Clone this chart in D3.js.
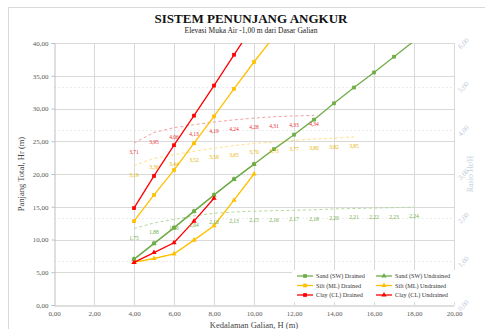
<!DOCTYPE html>
<html>
<head>
<meta charset="utf-8">
<script src="https://cdn.jsdelivr.net/npm/d3@7"></script>
<style>
  body { margin: 0; background: #fff; }
  text { font-family: "Liberation Serif", "DejaVu Serif", serif; }
</style>
</head>
<body>
<div class="chart"></div>
<script>
// depth H (m) for each series
const depthSandDrained = [4, 5, 6, 7, 8, 9, 10, 11, 12, 13, 14, 15, 16, 17, 18];
const sandDrained = [7.0, 9.4, 11.8, 14.3, 16.8, 19.2, 21.5, 23.8, 26.0, 28.3, 30.8, 33.2, 35.5, 37.9, 40.3];
const depthSandUndrained = [4, 5, 6, 7, 8, 9, 10];
const sandUndrained = [7.0, 9.4, 11.8, 14.3, 16.8, 19.2, 21.5];
const depthSiltDrained = [4, 5, 6, 7, 8, 9, 10, 11, 12, 13, 14, 15];
const siltDrained = [12.8, 16.8, 20.6, 24.7, 28.8, 33.0, 37.1, 41.0, 45.2, 49.4, 53.5, 57.8];
const depthSiltUndrained = [4, 5, 6, 7, 8, 9, 10];
const siltUndrained = [6.5, 7.1, 7.8, 9.9, 12.1, 16.0, 20.0];
const depthClayDrained = [4, 5, 6, 7, 8, 9, 10, 11, 12, 13];
const clayDrained = [14.8, 19.7, 24.4, 28.9, 33.5, 38.2, 42.8, 47.4, 52.0, 56.4];
const depthClayUndrained = [4, 5, 6, 7, 8];
const clayUndrained = [6.5, 8.0, 9.5, 12.8, 16.3];

// ratio Hr/H (right axis)
const sandRatio = [1.75, 1.88, 1.96, 2.04, 2.10, 2.13, 2.15, 2.16, 2.17, 2.18, 2.20, 2.21, 2.22, 2.23, 2.24];
const siltRatio = [3.19, 3.36, 3.44, 3.52, 3.59, 3.65, 3.70, 3.73, 3.77, 3.80, 3.82, 3.85];
const clayRatio = [3.71, 3.95, 4.06, 4.13, 4.19, 4.24, 4.28, 4.31, 4.33, 4.34];

const xTicks = [0, 2, 4, 6, 8, 10, 12, 14, 16, 18, 20];
const yTicks = [0, 5, 10, 15, 20, 25, 30, 35, 40];
const y2Ticks = [0, 1, 2, 3, 4, 5, 6];

const width = 485, height = 329;
const plot = { left: 54, right: 454, top: 43, bottom: 305 };
const fmt = v => d3.format(".2f")(v).replace(".", ",");

const svg = d3.select('.chart').append('svg')
  .attr('width', width).attr('height', height);

// chart border
svg.append('rect')
  .attr('x', 8.5).attr('y', 7.5).attr('width', 490).attr('height', 340)
  .attr('fill', 'none').attr('stroke', '#d9d9d9');

const x = d3.scaleLinear().domain([0, 20]).range([plot.left, plot.right]);
const y = d3.scaleLinear().domain([0, 40]).range([plot.bottom, plot.top]);
const y2 = d3.scaleLinear().domain([0, 6]).range([plot.bottom, plot.top]);

svg.append('clipPath').attr('id', 'clip').append('rect')
  .attr('x', plot.left).attr('y', plot.top)
  .attr('width', plot.right - plot.left).attr('height', plot.bottom - plot.top);

// Gridlines
svg.append('g').selectAll('line').data(y2Ticks.slice(1, -1)).enter().append('line')
  .attr('x1', plot.left).attr('x2', plot.right)
  .attr('y1', d => Math.round(y2(d)) + 0.5).attr('y2', d => Math.round(y2(d)) + 0.5)
  .attr('stroke', '#ececec').attr('stroke-dasharray', '2,2');
svg.append('g').selectAll('line').data(yTicks.slice(1)).enter().append('line')
  .attr('x1', plot.left).attr('x2', plot.right)
  .attr('y1', d => Math.round(y(d)) + 0.5).attr('y2', d => Math.round(y(d)) + 0.5)
  .attr('stroke', '#d9d9d9');
svg.append('g').selectAll('line').data(xTicks.slice(1)).enter().append('line')
  .attr('y1', plot.top).attr('y2', plot.bottom)
  .attr('x1', d => Math.round(x(d)) + 0.5).attr('x2', d => Math.round(x(d)) + 0.5)
  .attr('stroke', '#d9d9d9');

// Axes
const xaxis = svg.append('g')
  .attr('transform', 'translate(0,' + (plot.bottom + 0.5) + ')')
  .call(d3.axisBottom(x).tickValues(xTicks).tickFormat(fmt).tickSize(0).tickPadding(6));
const yaxis = svg.append('g')
  .attr('transform', 'translate(' + (plot.left + 0.5) + ',0)')
  .call(d3.axisLeft(y).tickValues(yTicks).tickFormat(fmt).tickSize(3).tickPadding(3));
[xaxis, yaxis].forEach(a => {
  a.select('.domain').attr('stroke', '#bfbfbf');
  a.selectAll('.tick line').attr('stroke', '#bfbfbf');
  a.selectAll('text').attr('font-size', 7).attr('fill', '#595959')
    .style('font-family', '"Liberation Serif", serif');
});

// right axis labels, rotated
svg.append('g').selectAll('text').data(y2Ticks).enter().append('text')
  .attr('transform', d => 'translate(' + (plot.right + 11) + ',' + (y2(d) + 2) + ') rotate(-45)')
  .attr('text-anchor', 'middle').attr('font-size', 7).attr('fill', '#bccbdc')
  .text(fmt);

// Titles
svg.append('text').attr('x', 251).attr('y', 23).attr('text-anchor', 'middle')
  .attr('font-size', 13).attr('font-weight', 'bold').attr('fill', '#111')
  .text('SISTEM PENUNJANG ANGKUR');
svg.append('text').attr('x', 251).attr('y', 33).attr('text-anchor', 'middle')
  .attr('font-size', 7.5).attr('fill', '#222')
  .text('Elevasi Muka Air -1,00 m dari Dasar Galian');
svg.append('text').attr('transform', 'translate(24,174) rotate(-90)')
  .attr('text-anchor', 'middle').attr('font-size', 8.5).attr('fill', '#444')
  .text('Panjang Total, Hr (m)');
svg.append('text').attr('x', 254).attr('y', 328).attr('text-anchor', 'middle')
  .attr('font-size', 8.5).attr('fill', '#444')
  .text('Kedalaman Galian, H (m)');
svg.append('text').attr('transform', 'translate(473,174) rotate(-90)')
  .attr('text-anchor', 'middle').attr('font-size', 8).attr('fill', '#c5d2e0')
  .text('Rasio Hr/H');

const lineGen = d3.line().x(d => x(d.h)).y(d => y(d.v));
const ratioGen = d3.line().x(d => x(d.h)).y(d => y2(d.v));
const zip = (hs, vs) => hs.map((h, i) => ({ h: h, v: vs[i] }));

const plotG = svg.append('g').attr('clip-path', 'url(#clip)');

// Ratio lines (dashed) with labels
const ratios = [
  { data: zip(depthSandDrained, sandRatio), line: '#b7d7a0', label: '#70ad47' },
  { data: zip(depthSiltDrained, siltRatio), line: '#ffe08c', label: '#e8b400' },
  { data: zip(depthClayDrained, clayRatio), line: '#f4a0a0', label: '#e83030' }
];
ratios.forEach(r => {
  plotG.append('path').attr('d', ratioGen(r.data))
    .attr('fill', 'none').attr('stroke', r.line).attr('stroke-width', 1)
    .attr('stroke-dasharray', '3,2.5');
  svg.append('g').selectAll('text').data(r.data).enter().append('text')
    .attr('x', d => x(d.h)).attr('y', d => y2(d.v) + 11)
    .attr('text-anchor', 'middle').attr('font-size', 5.5).attr('fill', r.label)
    .text(d => fmt(d.v));
});

// Main series
const series = [
  { name: 'Sand (SW) Drained', data: zip(depthSandDrained, sandDrained), color: '#70ad47', marker: 'square' },
  { name: 'Sand (SW) Undrained', data: zip(depthSandUndrained, sandUndrained), color: '#70ad47', marker: 'triangle' },
  { name: 'Silt (ML) Drained', data: zip(depthSiltDrained, siltDrained), color: '#ffc000', marker: 'square' },
  { name: 'Silt (ML) Undrained', data: zip(depthSiltUndrained, siltUndrained), color: '#ffc000', marker: 'triangle' },
  { name: 'Clay (CL) Drained', data: zip(depthClayDrained, clayDrained), color: '#ff0000', marker: 'square' },
  { name: 'Clay (CL) Undrained', data: zip(depthClayUndrained, clayUndrained), color: '#ff0000', marker: 'triangle' }
];
const sym = m => d3.symbol().type(m === 'square' ? d3.symbolSquare : d3.symbolTriangle).size(m === 'square' ? 14 : 12)();

series.forEach(s => {
  plotG.append('path').attr('d', lineGen(s.data))
    .attr('fill', 'none').attr('stroke', s.color).attr('stroke-width', 1.3);
  plotG.append('g').selectAll('path').data(s.data).enter().append('path')
    .attr('transform', d => 'translate(' + x(d.h) + ',' + y(d.v) + ')')
    .attr('d', sym(s.marker)).attr('fill', s.color);
});

// Legend
const legend = svg.append('g');
legend.append('rect').attr('x', 292).attr('y', 270).attr('width', 165).attr('height', 32).attr('fill', '#fff');
series.forEach((s, i) => {
  const lx = i % 2 === 0 ? 297 : 376;
  const ly = 276 + Math.floor(i / 2) * 9.5;
  legend.append('line').attr('x1', lx).attr('x2', lx + 16).attr('y1', ly).attr('y2', ly)
    .attr('stroke', s.color).attr('stroke-width', 1.3);
  legend.append('path').attr('transform', 'translate(' + (lx + 8) + ',' + ly + ')')
    .attr('d', sym(s.marker)).attr('fill', s.color);
  legend.append('text').attr('x', lx + 19).attr('y', ly + 2.2)
    .attr('font-size', 6.2).attr('fill', '#333').text(s.name);
});
</script>
</body>
</html>
